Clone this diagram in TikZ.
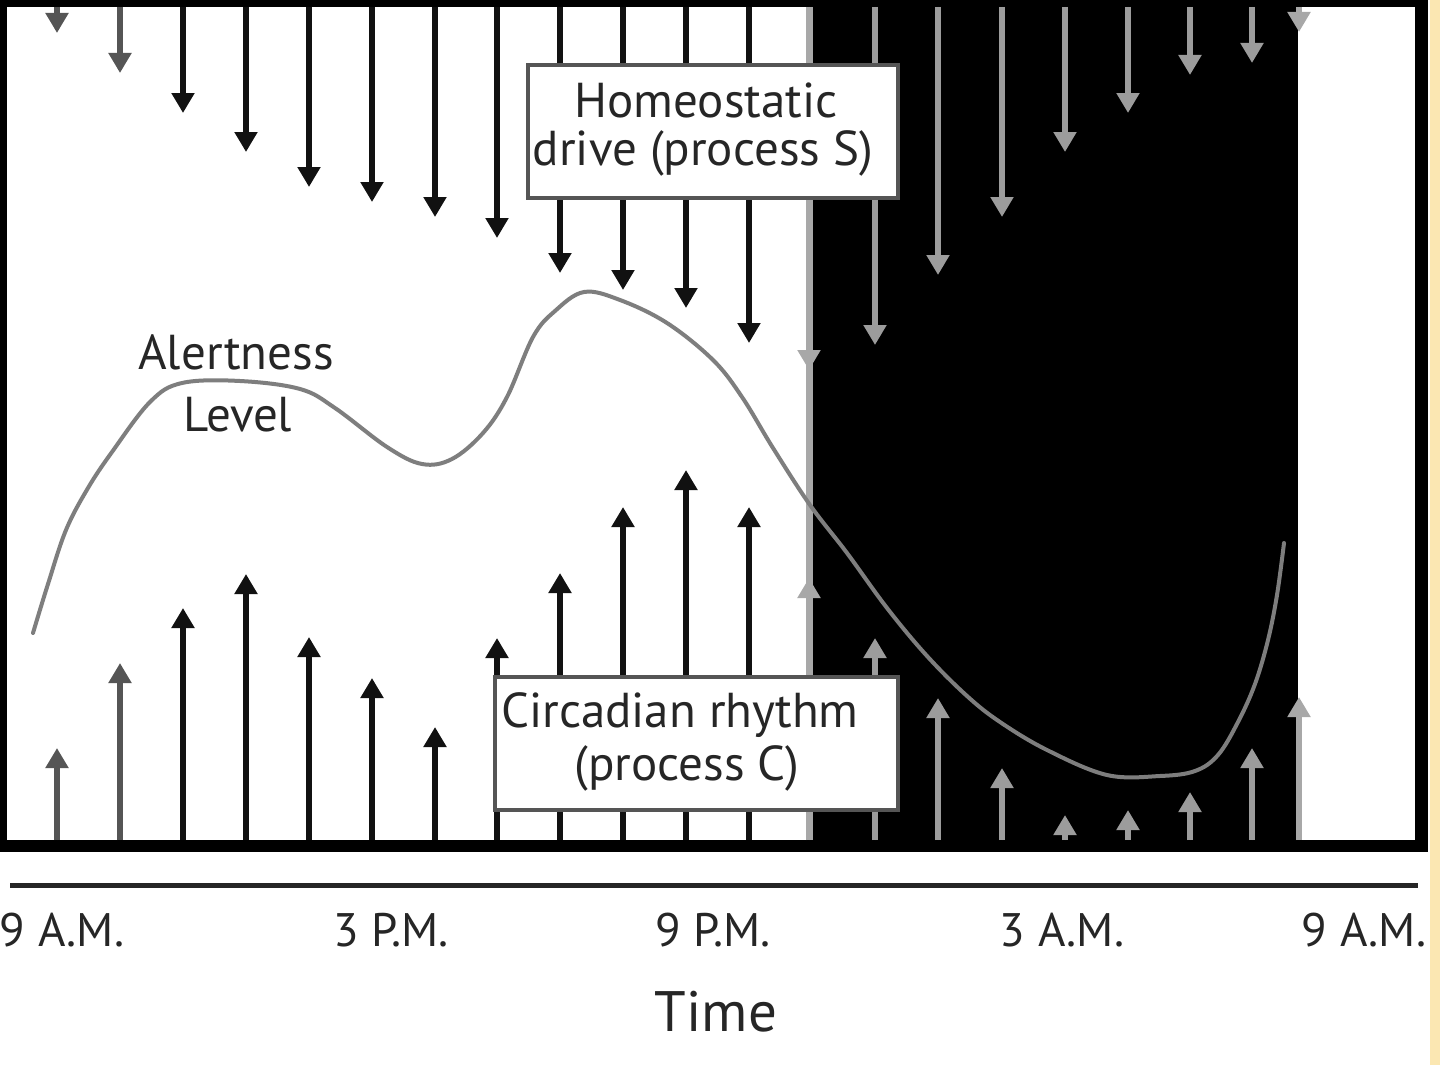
\documentclass[tikz,border=0pt]{standalone}
\usepackage{fontspec}
\setmainfont{PT Sans}
\usetikzlibrary{arrows.meta}
\definecolor{inkA}{HTML}{111111}
\definecolor{inkB}{HTML}{555555}
\definecolor{inkL}{HTML}{9C9C9C}
\definecolor{inkE}{HTML}{A8A8A8}
\definecolor{curvecol}{HTML}{7E7E7E}
\definecolor{txtcol}{HTML}{262626}
\definecolor{boxedge}{HTML}{555555}
\definecolor{sidestrip}{HTML}{FBE7B2}
\tikzset{
  shaft/.style={line width=6pt, -{Triangle[width=22pt,length=20pt]}},
  labelbox/.style={draw=boxedge, line width=4pt, fill=white, inner sep=0pt},
  boxtext/.style={text=txtcol, font=\fontsize{49}{54}\selectfont, inner sep=0pt},
  ticktext/.style={text=txtcol, font=\fontsize{47}{52}\selectfont, inner sep=0pt},
}
\begin{document}
\begin{tikzpicture}[x=1pt,y=-1pt]
\useasboundingbox (0,0) rectangle (1440,1065);
\fill[white] (0,0) rectangle (1440,1065);
\fill[sidestrip] (1430,0) rectangle (1440,1065);
% frame and night
\fill[black] (0,0) rectangle (1428,852);
\fill[white] (7,7) rectangle (1415,840);
\fill[black] (813,7) rectangle (1298,840);
% edge strip at dusk
\fill[inkE] (806,7) rectangle (813,840);
% down arrows (homeostatic drive)
\foreach \x/\t/\c in {57/33/inkB,120/73/inkB,183/113/inkA,246/152/inkA,309/187/inkA,372/202/inkA,435/217/inkA,497/238/inkA,560/273/inkA,623/290/inkA,686/308/inkA,749/343/inkA,809/370/inkE,875/345/inkL,938/275/inkL,1002/217/inkL,1065/152/inkL,1128/113/inkL,1190/75/inkL,1252/63/inkL,1299/32/inkE}
  \draw[shaft, draw=\c, fill=\c] (\x,7) -- (\x,\t);
% up arrows (circadian rhythm)
\foreach \x/\t/\c in {57/748/inkB,120/663/inkB,183/608/inkA,246/574/inkA,309/637/inkA,372/678/inkA,435/727/inkA,497/638/inkA,560/573/inkA,623/507/inkA,686/470/inkA,749/507/inkA,809/578/inkE,875/638/inkL,938/698/inkL,1002/768/inkL,1065/815/inkL,1128/810/inkL,1190/792/inkL,1252/748/inkL,1299/697/inkE}
  \draw[shaft, draw=\c, fill=\c] (\x,840) -- (\x,\t);
% alertness curve
\draw[curvecol, line width=4pt, line cap=round, line join=round]
  plot[smooth, tension=0.6] coordinates {(33,633) (48,584) (66,530) (88,488) (112,452) (150,402) (182,383) (240,381) (300,389) (335,408) (387,447) (422,464) (452,459) (483,433) (507,397) (533,337) (555,311) (584,292) (620,300) (667,323) (713,360) (742,397) (773,448) (810,505) (847,553) (887,608) (927,656) (967,696) (1000,722) (1047,750) (1107,775) (1160,776) (1195,771) (1218,755) (1238,722) (1255,684) (1268,640) (1277,595) (1284,543)};
% label boxes
\node[labelbox, minimum width=370pt, minimum height=133pt] (hbox) at (713,131.5) {};
\node[boxtext] (htext1) at (706,100) {Homeostatic};
\node[boxtext] (htext2) at (703,153) {drive (process S)};
\node[labelbox, minimum width=403pt, minimum height=133pt] (cbox) at (696.5,743.5) {};
\node[boxtext] (ctext1) at (680,715) {Circadian rhythm};
\node[boxtext] (ctext2) at (687,768) {(process C)};
\node[boxtext] (alert1) at (236,352) {Alertness};
\node[boxtext] (alert2) at (238,415) {Level};
% time axis
\coordinate (axL) at (10,885);
\coordinate (axR) at (1418,885);
\draw[txtcol, line width=5pt] (axL) -- (axR);
\node[ticktext] (t1) at (62,930) {9 A.M.};
\node[ticktext] (t2) at (391,930) {3 P.M.};
\node[ticktext] (t3) at (713,930) {9 P.M.};
\node[ticktext] (t4) at (1062,930) {3 A.M.};
\node[ticktext] (t5) at (1364,930) {9 A.M.};
\node[text=txtcol, font=\fontsize{57}{62}\selectfont, inner sep=0pt] (tlabel) at (716,1012) {Time};
\end{tikzpicture}
\end{document}
